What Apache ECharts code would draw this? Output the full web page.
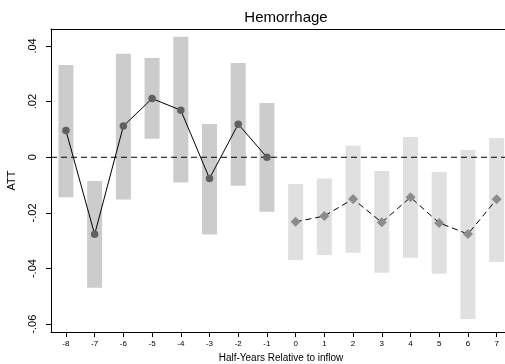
<!DOCTYPE html>
<html>
<head>
<meta charset="utf-8">
<script src="https://cdn.jsdelivr.net/npm/echarts@6/dist/echarts.min.js"></script>
<style>
  html, body { margin: 0; padding: 0; background: #fff; }
  #chart { width: 505px; height: 364px; }
</style>
</head>
<body>
<div id="chart"></div>
<script>
// Event-study estimates: half-years relative to inflow
const periods = [-8, -7, -6, -5, -4, -3, -2, -1, 0, 1, 2, 3, 4, 5, 6, 7];
const tickLabels = ['-8', '-7', '-6', '-5', '-4', '-3', '-2', '-1', '0', '1', '2', '3', '4', '5', '6', '7'];

// Pre-inflow periods (-8 .. -1)
const prePeriods = [-8, -7, -6, -5, -4, -3, -2, -1];
const preATT   = [0.0096, -0.0277, 0.0112, 0.0211, 0.0169, -0.0076, 0.0119, 0.0000];
const preLow   = [-0.0144, -0.0469, -0.0152, 0.0067, -0.0091, -0.0278, -0.0102, -0.0196];
const preHigh  = [0.0332, -0.0085, 0.0372, 0.0357, 0.0433, 0.0120, 0.0339, 0.0195];

// Post-inflow periods (0 .. 7)
const postPeriods = [0, 1, 2, 3, 4, 5, 6, 7];
const postATT  = [-0.0232, -0.0211, -0.0150, -0.0234, -0.0144, -0.0236, -0.0276, -0.0151];
const postLow  = [-0.0369, -0.0351, -0.0343, -0.0415, -0.0361, -0.0419, -0.0581, -0.0376];
const postHigh = [-0.0096, -0.0076, 0.0041, -0.0049, 0.0073, -0.0053, 0.0026, 0.0069];

const yTicks = [-0.06, -0.04, -0.02, 0, 0.02, 0.04];
const yTickLabels = ['-.06', '-.04', '-.02', '0', '.02', '.04'];

const FONT = '"Liberation Sans", Arial, sans-serif';

function ciRect(fill) {
  return function (params, api) {
    const x = api.value(0);
    const lo = api.coord([x, api.value(1)]);
    const hi = api.coord([x, api.value(2)]);
    const w = 15;
    return {
      type: 'rect',
      shape: { x: lo[0] - w / 2, y: hi[1], width: w, height: lo[1] - hi[1] },
      style: { fill: fill }
    };
  };
}

const preCI = prePeriods.map((p, i) => [p, preLow[i], preHigh[i]]);
const postCI = postPeriods.map((p, i) => [p, postLow[i], postHigh[i]]);
const prePts = prePeriods.map((p, i) => [p, preATT[i]]);
const postPts = postPeriods.map((p, i) => [p, postATT[i]]);

const chart = echarts.init(document.getElementById('chart'), null, { renderer: 'canvas' });
chart.setOption({
  animation: false,
  backgroundColor: '#fff',
  title: {
    text: 'Hemorrhage',
    left: 281, top: 5,
    textAlign: 'center',
    textStyle: { fontFamily: FONT, fontSize: 15, fontWeight: 'normal', color: '#000' }
  },
  grid: {
    left: 51, right: -6, top: 29, bottom: 32,
    containLabel: false, outerBoundsMode: 'none'
  },
  xAxis: [{
    type: 'value',
    min: -8.52, max: 7.5,
    name: 'Half-Years Relative to inflow',
    nameLocation: 'middle',
    nameGap: 21,
    nameTextStyle: { fontFamily: FONT, fontSize: 10, color: '#000' },
    axisLine: { show: true, onZero: false, lineStyle: { color: '#000', width: 1 } },
    axisTick: { show: true, length: 5, customValues: periods, lineStyle: { color: '#000' } },
    axisLabel: {
      customValues: periods,
      formatter: v => tickLabels[periods.indexOf(Math.round(v))],
      fontFamily: FONT, fontSize: 8, color: '#000', margin: 8
    },
    splitLine: { show: false }
  }, {
    type: 'value', position: 'top',
    min: -8.52, max: 7.5,
    axisLine: { show: true, onZero: false, lineStyle: { color: '#000', width: 1 } },
    axisTick: { show: false }, axisLabel: { show: false }, splitLine: { show: false }
  }],
  yAxis: {
    type: 'value',
    min: -0.0628, max: 0.0461,
    name: 'ATT',
    nameLocation: 'middle',
    nameGap: 34,
    nameRotate: 90,
    nameTextStyle: { fontFamily: FONT, fontSize: 11, color: '#000' },
    axisLine: { show: true, onZero: false, lineStyle: { color: '#000', width: 1 } },
    axisTick: { show: true, length: 5, customValues: yTicks, lineStyle: { color: '#000' } },
    axisLabel: {
      customValues: yTicks,
      rotate: 90,
      formatter: v => {
        const i = yTicks.findIndex(t => Math.abs(t - v) < 1e-9);
        return i >= 0 ? yTickLabels[i] : '';
      },
      fontFamily: FONT, fontSize: 11, color: '#000', margin: 13
    },
    splitLine: { show: false }
  },
  series: [
    {
      type: 'custom', name: 'pre CI',
      renderItem: ciRect('#cccccc'),
      data: preCI, encode: { x: 0, y: [1, 2] }, z: 1
    },
    {
      type: 'custom', name: 'post CI',
      renderItem: ciRect('#e0e0e0'),
      data: postCI, encode: { x: 0, y: [1, 2] }, z: 1
    },
    {
      type: 'line', name: 'zero',
      data: [[-8.52, 0], [7.5, 0]],
      symbol: 'none',
      lineStyle: { color: '#000', width: 1, type: [6, 4] },
      z: 2, silent: true
    },
    {
      type: 'line', name: 'pre ATT',
      data: prePts,
      symbol: 'circle', symbolSize: 7.5,
      itemStyle: { color: '#606060' },
      lineStyle: { color: '#000', width: 1 },
      z: 3
    },
    {
      type: 'line', name: 'post ATT',
      data: postPts,
      symbol: 'diamond', symbolSize: 10,
      itemStyle: { color: '#8c8c8c' },
      lineStyle: { color: '#000', width: 1, type: [6, 4] },
      z: 3
    }
  ]
});
</script>
</body>
</html>
